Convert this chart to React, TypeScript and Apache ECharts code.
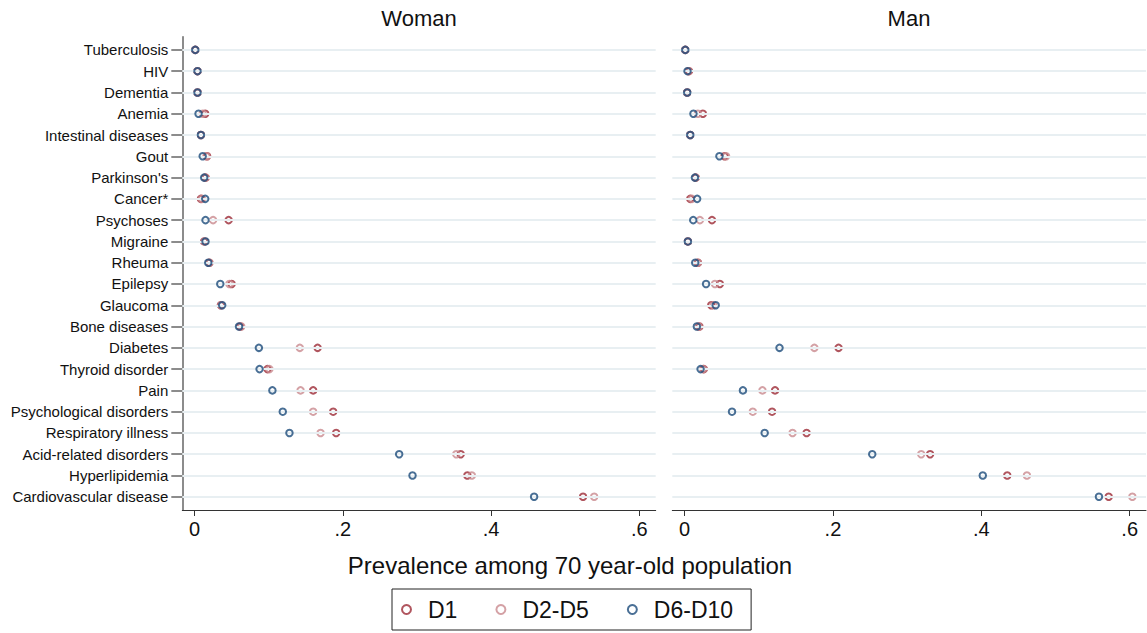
import React, { useEffect, useRef } from "react";
import * as echarts from "echarts";

const categories = [
  "Tuberculosis", "HIV", "Dementia", "Anemia", "Intestinal diseases", "Gout",
  "Parkinson's", "Cancer*", "Psychoses", "Migraine", "Rheuma", "Epilepsy",
  "Glaucoma", "Bone diseases", "Diabetes", "Thyroid disorder", "Pain",
  "Psychological disorders", "Respiratory illness", "Acid-related disorders",
  "Hyperlipidemia", "Cardiovascular disease",
];

const panelTitles = ["Woman", "Man"];
const seriesNames = ["D1", "D2-D5", "D6-D10"];
const xTicks = [0, 0.2, 0.4, 0.6];
const xAxisTitle = "Prevalence among 70 year-old population";

const womanD1 = [0.001, 0.004, 0.004, 0.0144, 0.0086, 0.017, 0.015, 0.0086, 0.046, 0.013, 0.02, 0.05, 0.0355, 0.0616, 0.166, 0.0984, 0.16, 0.187, 0.191, 0.359, 0.368, 0.524];
const womanD2D5 = [0.001, 0.004, 0.004, 0.011, 0.0086, 0.016, 0.014, 0.01, 0.025, 0.014, 0.02, 0.047, 0.036, 0.063, 0.142, 0.101, 0.143, 0.16, 0.17, 0.353, 0.374, 0.539];
const womanD6D10 = [0.001, 0.004, 0.004, 0.0054, 0.0086, 0.011, 0.013, 0.0144, 0.0148, 0.0148, 0.0185, 0.0347, 0.0373, 0.06, 0.0868, 0.0877, 0.105, 0.119, 0.128, 0.276, 0.294, 0.458];

const manD1 = [0.001, 0.006, 0.0036, 0.0247, 0.0077, 0.054, 0.015, 0.0077, 0.037, 0.0045, 0.018, 0.0476, 0.036, 0.02, 0.2076, 0.026, 0.122, 0.118, 0.1645, 0.331, 0.435, 0.5717];
const manD2D5 = [0.001, 0.005, 0.0036, 0.018, 0.0077, 0.056, 0.015, 0.01, 0.0207, 0.0045, 0.018, 0.041, 0.039, 0.019, 0.175, 0.025, 0.105, 0.092, 0.1456, 0.319, 0.4615, 0.6036];
const manD6D10 = [0.001, 0.004, 0.0036, 0.012, 0.0077, 0.047, 0.014, 0.017, 0.0117, 0.0045, 0.0144, 0.029, 0.042, 0.0166, 0.128, 0.0216, 0.0787, 0.064, 0.108, 0.253, 0.402, 0.5586];

const colors = ["#9c2a36", "#c98a8f", "#1c4b7b"];
const FONT = "'Liberation Sans', Arial, Helvetica, sans-serif";

export default function App() {
  const ref = useRef<HTMLDivElement>(null);

  useEffect(() => {
    if (!ref.current) return;
    const chart = echarts.init(ref.current, null, { renderer: "svg" });
    const catIdx = categories.map((_, i) => i);
    const panels = [
      [womanD1, womanD2D5, womanD6D10],
      [manD1, manD2D5, manD6D10],
    ];

    const fmtX = (v: number) => (Math.abs(v) < 1e-9 ? "0" : String(+v.toFixed(2)).replace(/^0\./, "."));

    const xAxisBase = (gi: number) => ({
      type: "value",
      gridIndex: gi,
      position: "bottom",
      min: -0.0165,
      max: 0.622,
      axisLine: { show: true, onZero: false, lineStyle: { color: "#333", width: 1 } },
      axisTick: { show: true, length: 6, lineStyle: { color: "#333" }, customValues: xTicks },
      axisLabel: {
        show: true,
        customValues: xTicks,
        formatter: fmtX,
        fontSize: 20,
        color: "#111",
        fontFamily: FONT,
        margin: 9,
      },
      splitLine: { show: false },
    });

    const yAxisBase = (gi: number) => ({
      type: "value",
      gridIndex: gi,
      position: "left",
      inverse: true,
      min: -0.62,
      max: 21.62,
      axisLine: { show: gi === 0, onZero: false, lineStyle: { color: "#666", width: 1.5 } },
      axisTick: { show: gi === 0, length: 11, lineStyle: { color: "#666", width: 1.5 }, customValues: catIdx },
      axisLabel: {
        show: gi === 0,
        customValues: catIdx,
        formatter: (v: number) => categories[Math.round(v)] ?? "",
        fontSize: 15,
        color: "#111",
        fontFamily: FONT,
        margin: 14,
      },
      splitLine: { show: false },
    });

    const series: any[] = [];
    [0, 1].forEach((gi) => {
      series.push({
        type: "scatter",
        name: "grid" + gi,
        xAxisIndex: gi,
        yAxisIndex: gi,
        data: [],
        silent: true,
        z: 1,
        markLine: {
          silent: true,
          symbol: ["none", "none"],
          label: { show: false },
          lineStyle: { color: "#e8eff2", width: 2, type: "solid" },
          data: catIdx.map((i) => ({ yAxis: i })),
        },
      });
      panels[gi].forEach((vals, si) => {
        series.push({
          type: "scatter",
          name: seriesNames[si],
          xAxisIndex: gi,
          yAxisIndex: gi,
          symbol: "circle",
          symbolSize: 6.5,
          z: 3 + si,
          itemStyle: { color: "transparent", borderColor: colors[si], borderWidth: 2 },
          data: vals.map((v, i) => [v, i]),
        });
      });
    });

    chart.setOption({
      animation: false,
      textStyle: { fontFamily: FONT },
      grid: [
        { left: 182.3, right: 491.3, top: 36.7, bottom: 123 },
        { left: 672.3, right: 1, top: 36.7, bottom: 123 },
      ],
      xAxis: [xAxisBase(0), xAxisBase(1)],
      yAxis: [yAxisBase(0), yAxisBase(1)],
      legend: {
        data: seriesNames,
        left: 392,
        top: 589,
        orient: "horizontal",
        borderColor: "#222",
        borderWidth: 1,
        padding: [9, 18, 9, 9],
        itemGap: 38,
        itemWidth: 9,
        itemHeight: 9,
        icon: "circle",
        textStyle: { fontSize: 23, color: "#111", fontFamily: FONT, padding: [0, 0, 0, 12] },
      },
      graphic: [
        {
          type: "text",
          x: 419,
          y: 18,
          style: { text: panelTitles[0], font: `22px ${FONT}`, fill: "#111", textAlign: "center", textVerticalAlign: "middle" },
        },
        {
          type: "text",
          x: 909,
          y: 18,
          style: { text: panelTitles[1], font: `22px ${FONT}`, fill: "#111", textAlign: "center", textVerticalAlign: "middle" },
        },
        {
          type: "text",
          x: 570,
          y: 565,
          style: { text: xAxisTitle, font: `24px ${FONT}`, fill: "#111", textAlign: "center", textVerticalAlign: "middle" },
        },
      ],
      series,
    });

    return () => chart.dispose();
  }, []);

  return <div ref={ref} style={{ position: "fixed", left: 0, top: 0, width: 1147, height: 633, background: "#fff" }} />;
}
